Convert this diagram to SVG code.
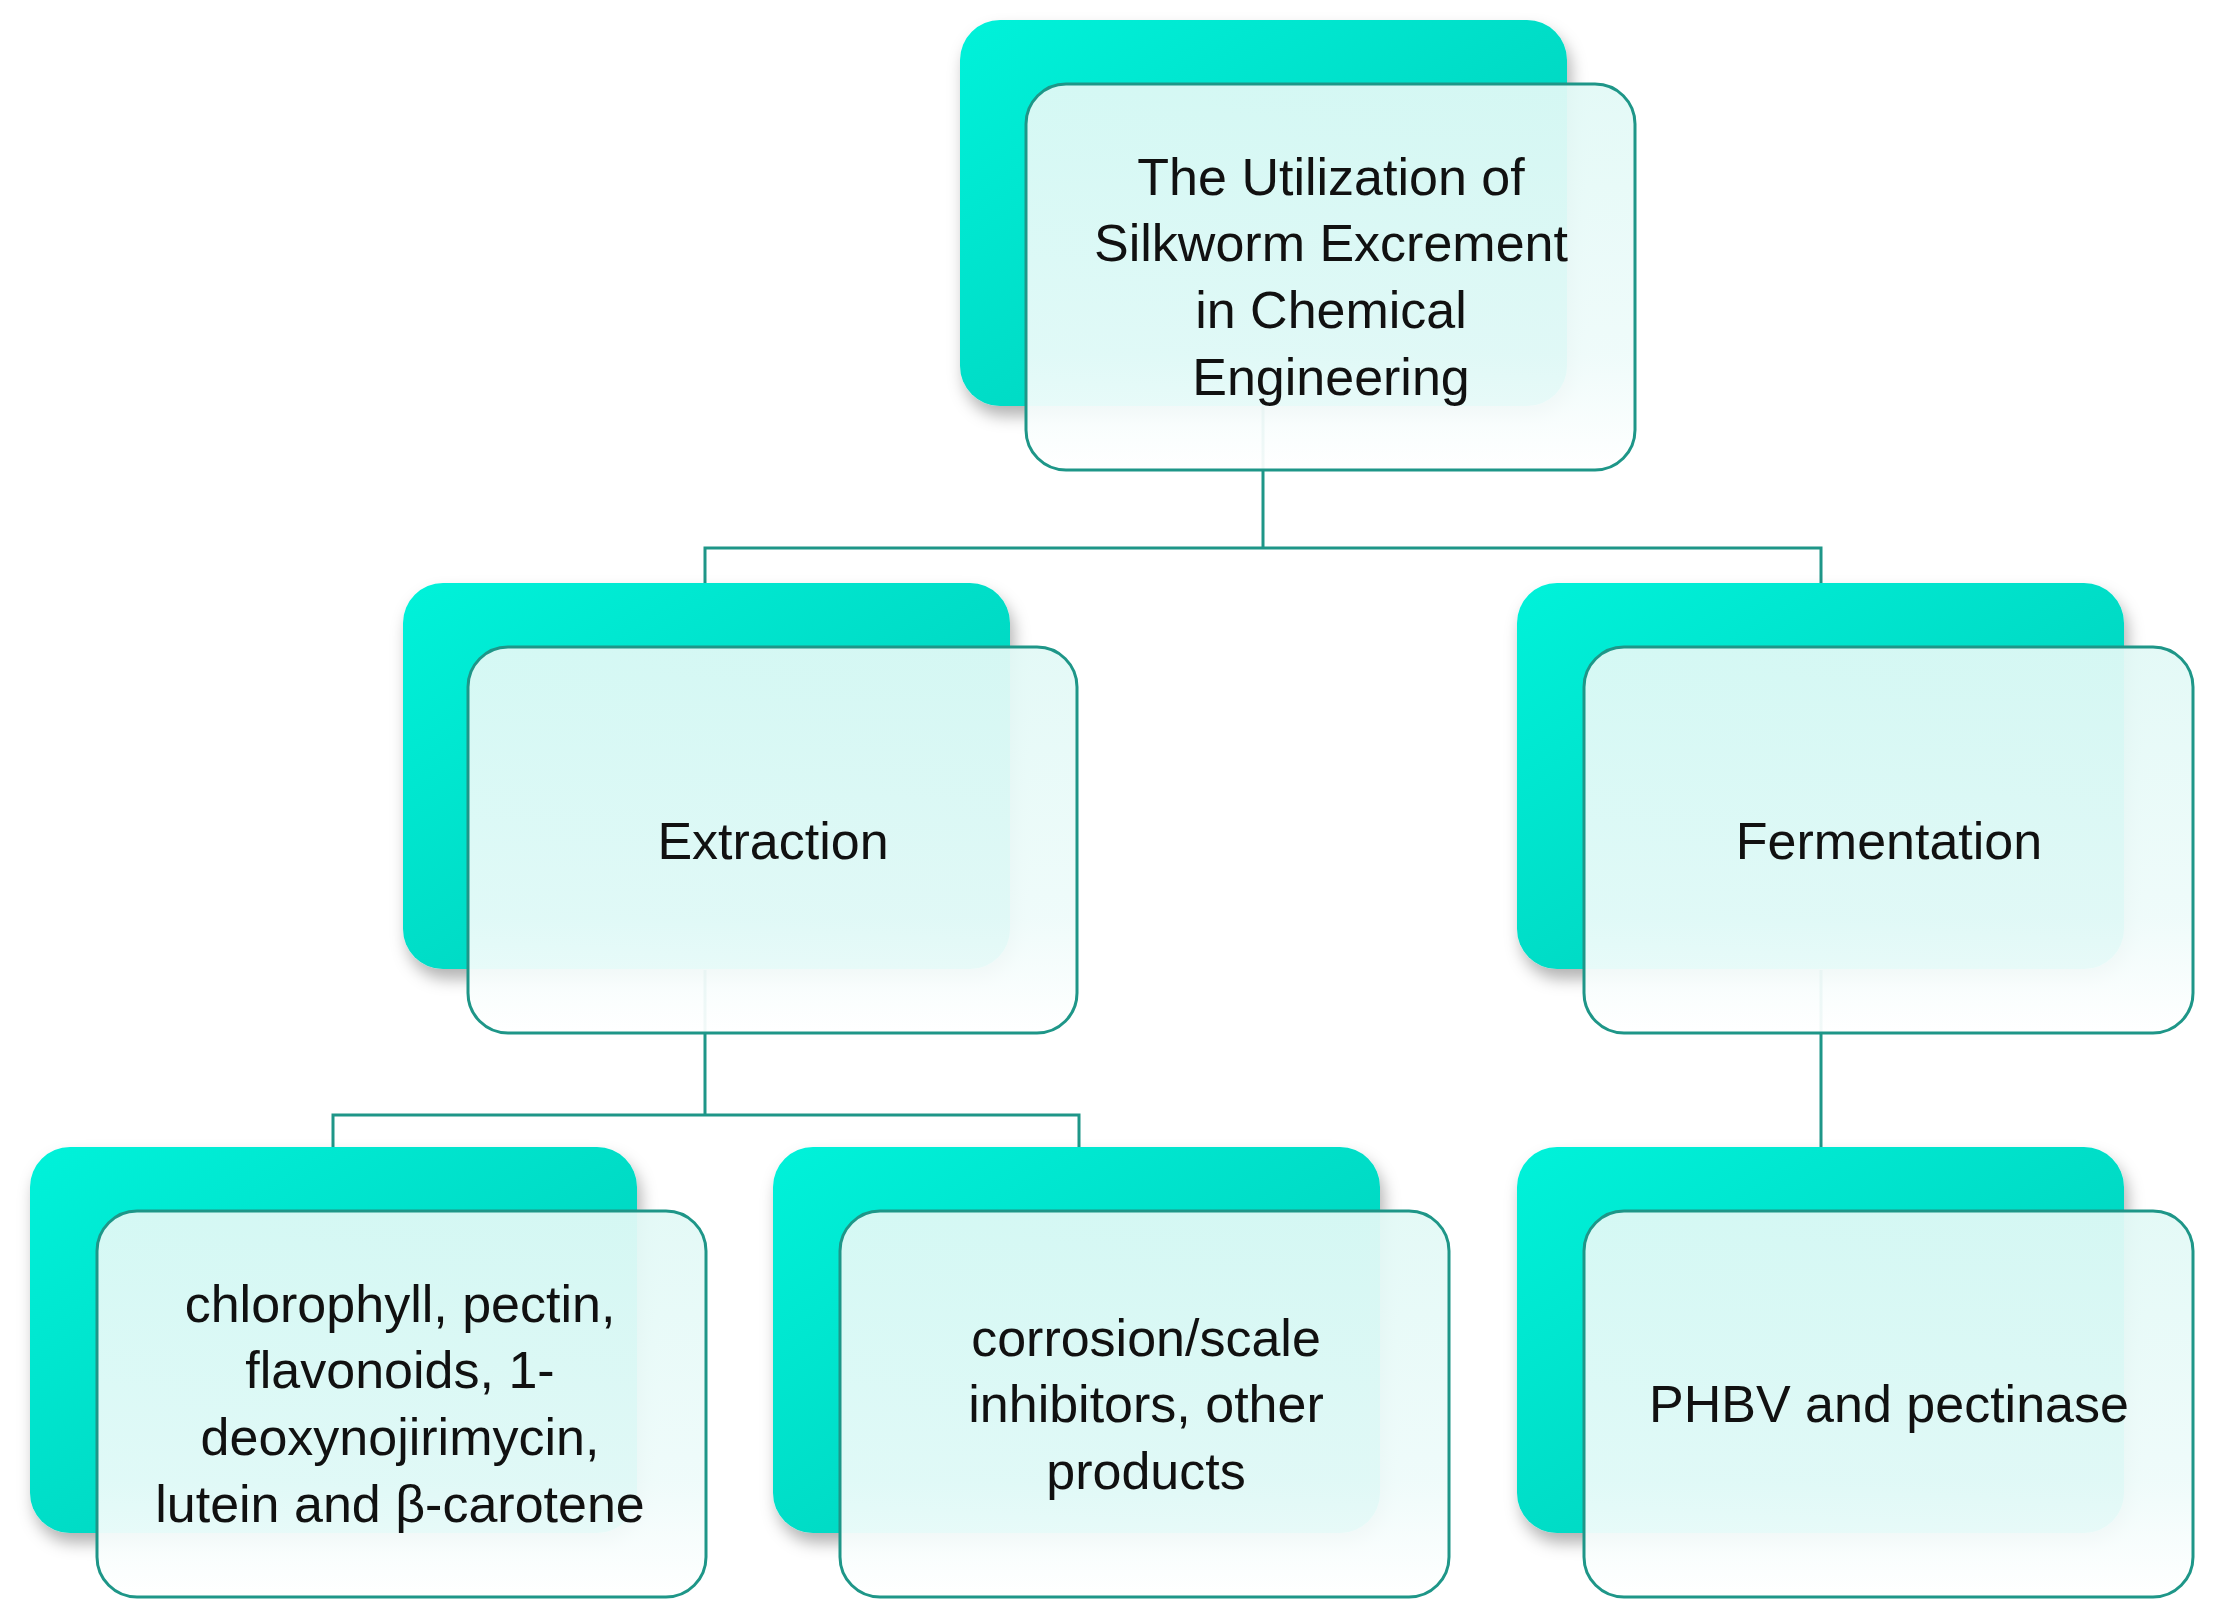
<svg xmlns="http://www.w3.org/2000/svg" width="2219" height="1612" viewBox="0 0 2219 1612">
<defs>
<linearGradient id="g" x1="0" y1="0" x2="1" y2="1"><stop offset="0" stop-color="#00F2DA"/><stop offset="1" stop-color="#00C9B5"/></linearGradient>
<linearGradient id="w" x1="0" y1="0" x2="0" y2="1"><stop offset="0" stop-color="#E2F9F6"/><stop offset="0.7" stop-color="#EEFBFA"/><stop offset="1" stop-color="#FFFFFF"/></linearGradient>
<filter id="sh" x="-10%" y="-10%" width="125%" height="130%"><feDropShadow dx="4" dy="10" stdDeviation="8" flood-color="#000" flood-opacity="0.3"/></filter>
<style>
.b{fill:url(#g);filter:url(#sh)}
.f{fill:url(#w);fill-opacity:0.94;stroke:#1E9688;stroke-width:3}
.c{fill:none;stroke:#1E9688;stroke-width:3}
text{font-family:"Liberation Sans",Arial,sans-serif;font-size:52px;fill:#111;text-anchor:middle}
</style>
</defs>
<rect width="2219" height="1612" fill="#fff"/>
<g id="connectors">
<path class="c" d="M1263 406V548M705 583V548H1821V583M705 970V1115M333 1147V1115H1079V1147M1821 970V1147"/>
</g>
<g id="top"><rect class="b" x="960" y="20" width="607" height="386" rx="40"/><rect class="f" x="1026" y="84" width="609" height="386" rx="40"/>
<text x="1331" y="195">The Utilization of</text><text x="1331" y="261">Silkworm Excrement</text><text x="1331" y="328">in Chemical</text><text x="1331" y="395">Engineering</text></g>
<g id="extraction"><rect class="b" x="403" y="583" width="607" height="386" rx="40"/><rect class="f" x="468" y="647" width="609" height="386" rx="40"/><text x="773" y="859">Extraction</text></g>
<g id="fermentation"><rect class="b" x="1517" y="583" width="607" height="386" rx="40"/><rect class="f" x="1584" y="647" width="609" height="386" rx="40"/><text x="1889" y="859">Fermentation</text></g>
<g id="leaf1"><rect class="b" x="30" y="1147" width="607" height="386" rx="40"/><rect class="f" x="97" y="1211" width="609" height="386" rx="40"/>
<text x="400" y="1322">chlorophyll, pectin,</text><text x="400" y="1388">flavonoids, 1-</text><text x="400" y="1455">deoxynojirimycin,</text><text x="400" y="1522">lutein and β-carotene</text></g>
<g id="leaf2"><rect class="b" x="773" y="1147" width="607" height="386" rx="40"/><rect class="f" x="840" y="1211" width="609" height="386" rx="40"/>
<text x="1146" y="1356">corrosion/scale</text><text x="1146" y="1422">inhibitors, other</text><text x="1146" y="1489">products</text></g>
<g id="leaf3"><rect class="b" x="1517" y="1147" width="607" height="386" rx="40"/><rect class="f" x="1584" y="1211" width="609" height="386" rx="40"/><text x="1889" y="1422">PHBV and pectinase</text></g>
</svg>
